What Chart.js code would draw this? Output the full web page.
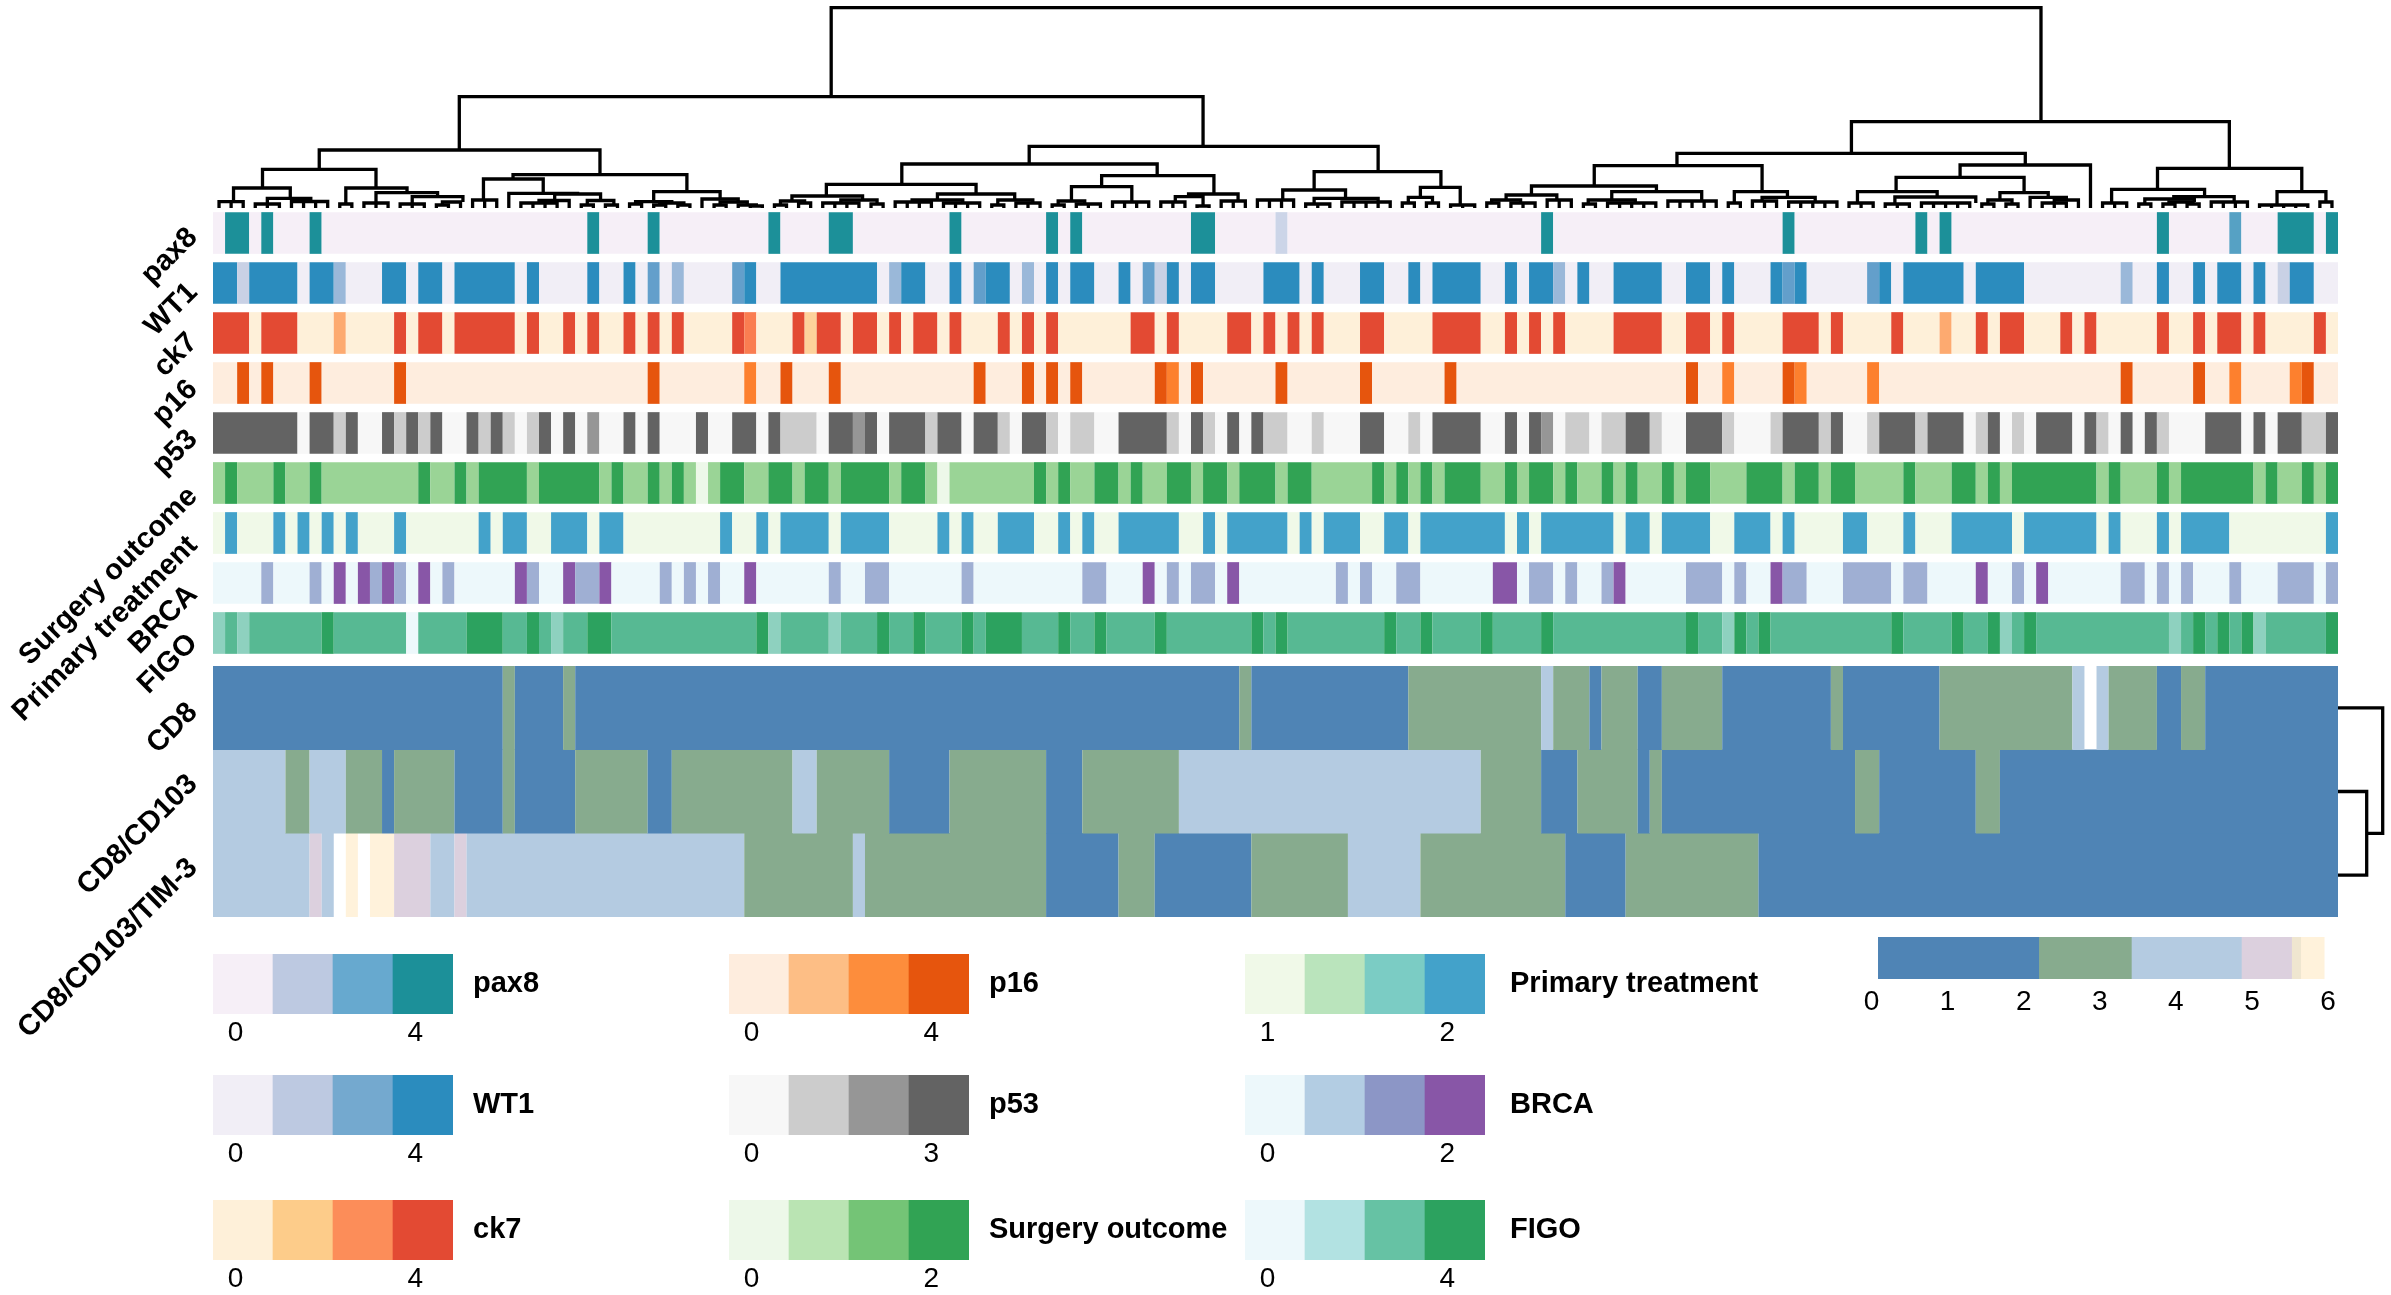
<!DOCTYPE html>
<html><head><meta charset="utf-8">
<script src="https://cdn.jsdelivr.net/npm/chart.js@4/dist/chart.umd.js"></script>
<style>html,body{margin:0;padding:0;background:#fff;width:2391px;height:1295px;overflow:hidden}canvas{position:absolute;display:block}</style>
</head><body>
<script>
// Every row is a list of runs: [value, column where the run ends]. null = missing value.
const columnCount = 176;
const pax8 = [[0,1],[4,3],[0,4],[4,5],[0,8],[4,9],[0,31],[4,32],[0,36],[4,37],[0,46],[4,47],[0,51],[4,53],[0,61],[4,62],[0,69],[4,70],[0,71],[4,72],[0,81],[4,83],[0,88],[1,89],[0,110],[4,111],[0,130],[4,131],[0,141],[4,142],[0,143],[4,144],[0,161],[4,162],[0,167],[3,168],[0,171],[4,174],[0,175],[4,176]];
const WT1 = [[4,2],[1,3],[4,7],[0,8],[4,10],[2,11],[0,14],[4,16],[0,17],[4,19],[0,20],[4,25],[0,26],[4,27],[0,31],[4,32],[0,34],[4,35],[0,36],[3,37],[0,38],[2,39],[0,43],[3,44],[4,45],[0,47],[4,55],[0,56],[2,57],[4,59],[0,61],[4,62],[0,63],[3,64],[4,66],[0,67],[2,68],[0,69],[4,70],[0,71],[4,73],[0,75],[4,76],[0,77],[3,78],[1,79],[4,80],[0,81],[4,83],[0,87],[4,90],[0,91],[4,92],[0,95],[4,97],[0,99],[4,100],[0,101],[4,105],[0,107],[4,108],[0,109],[4,111],[2,112],[0,113],[4,114],[0,116],[4,120],[0,122],[4,124],[0,125],[4,126],[0,129],[4,130],[3,131],[4,132],[0,137],[3,138],[4,139],[0,140],[4,145],[0,146],[4,150],[0,158],[2,159],[0,161],[4,162],[0,164],[4,165],[0,166],[4,168],[0,169],[4,170],[0,171],[1,172],[4,174],[0,176]];
const ck7 = [[4,3],[0,4],[4,7],[0,10],[2,11],[0,15],[4,16],[0,17],[4,19],[0,20],[4,25],[0,26],[4,27],[0,29],[4,30],[0,31],[4,32],[0,34],[4,35],[0,36],[4,37],[0,38],[4,39],[0,43],[4,44],[3,45],[0,48],[4,49],[1,50],[4,52],[0,53],[4,55],[0,56],[4,57],[0,58],[4,60],[0,61],[4,62],[0,65],[4,66],[0,67],[4,68],[0,69],[4,70],[0,76],[4,78],[0,79],[4,80],[0,84],[4,86],[0,87],[4,88],[0,89],[4,90],[0,91],[4,92],[0,95],[4,97],[0,101],[4,105],[0,107],[4,108],[0,109],[4,110],[0,111],[4,112],[0,116],[4,120],[0,122],[4,124],[0,125],[4,126],[0,130],[4,133],[0,134],[4,135],[0,139],[4,140],[0,143],[2,144],[0,146],[4,147],[0,148],[4,150],[0,153],[4,154],[0,155],[4,156],[0,161],[4,162],[0,164],[4,165],[0,166],[4,168],[0,169],[4,170],[0,174],[4,175],[0,176]];
const p16 = [[0,2],[4,3],[0,4],[4,5],[0,8],[4,9],[0,15],[4,16],[0,36],[4,37],[0,44],[3,45],[0,47],[4,48],[0,51],[4,52],[0,63],[4,64],[0,67],[4,68],[0,69],[4,70],[0,71],[4,72],[0,78],[4,79],[3,80],[0,81],[4,82],[0,88],[4,89],[0,95],[4,96],[0,102],[4,103],[0,122],[4,123],[0,125],[3,126],[0,130],[4,131],[3,132],[0,137],[3,138],[0,158],[4,159],[0,164],[4,165],[0,167],[3,168],[0,172],[3,173],[4,174],[0,176]];
const p53 = [[3,7],[0,8],[3,10],[1,11],[3,12],[0,14],[3,15],[1,16],[3,17],[1,18],[3,19],[0,21],[3,22],[1,23],[3,24],[1,25],[0,26],[1,27],[3,28],[0,29],[3,30],[0,31],[2,32],[0,34],[3,35],[0,36],[3,37],[0,40],[3,41],[0,43],[3,45],[0,46],[3,47],[1,50],[0,51],[3,53],[2,54],[3,55],[0,56],[3,59],[1,60],[3,62],[0,63],[3,65],[1,66],[0,67],[3,69],[1,70],[0,71],[1,73],[0,75],[3,79],[1,80],[0,81],[3,82],[1,83],[0,84],[3,85],[0,86],[3,87],[1,89],[0,91],[1,92],[0,95],[3,97],[0,99],[1,100],[0,101],[3,105],[0,107],[3,108],[0,109],[3,110],[2,111],[0,112],[1,114],[0,115],[1,117],[3,119],[1,120],[0,122],[3,125],[1,126],[0,129],[1,130],[3,133],[1,134],[3,135],[0,137],[1,138],[3,141],[1,142],[3,145],[0,146],[1,147],[3,148],[0,149],[1,150],[0,151],[3,154],[0,155],[3,156],[1,157],[0,158],[3,159],[0,160],[3,161],[1,162],[0,165],[3,168],[0,169],[3,170],[0,171],[3,173],[1,175],[3,176]];
const surgeryOutcome = [[1,1],[2,2],[1,5],[2,6],[1,8],[2,9],[1,17],[2,18],[1,20],[2,21],[1,22],[2,26],[1,27],[2,32],[1,33],[2,34],[1,36],[2,37],[1,38],[2,39],[1,40],[0,41],[1,42],[2,44],[1,46],[2,48],[1,49],[2,51],[1,52],[2,56],[1,57],[2,59],[1,60],[0,61],[1,68],[2,69],[1,70],[2,71],[1,73],[2,75],[1,76],[2,77],[1,79],[2,81],[1,82],[2,84],[1,85],[2,88],[1,89],[2,91],[1,96],[2,97],[1,98],[2,99],[1,100],[2,101],[1,102],[2,105],[1,107],[2,108],[1,109],[2,111],[1,112],[2,113],[1,115],[2,116],[1,117],[2,118],[1,120],[2,121],[1,122],[2,124],[1,127],[2,130],[1,131],[2,133],[1,134],[2,136],[1,140],[2,141],[1,144],[2,146],[1,147],[2,148],[1,149],[2,156],[1,157],[2,158],[1,161],[2,162],[1,163],[2,169],[1,170],[2,171],[1,173],[2,174],[1,175],[2,176]];
const primaryTreatment = [[1,1],[2,2],[1,5],[2,6],[1,7],[2,8],[1,9],[2,10],[1,11],[2,12],[1,15],[2,16],[1,22],[2,23],[1,24],[2,26],[1,28],[2,31],[1,32],[2,34],[1,42],[2,43],[1,45],[2,46],[1,47],[2,51],[1,52],[2,56],[1,60],[2,61],[1,62],[2,63],[1,65],[2,68],[1,70],[2,71],[1,72],[2,73],[1,75],[2,80],[1,82],[2,83],[1,84],[2,89],[1,90],[2,91],[1,92],[2,95],[1,97],[2,99],[1,100],[2,107],[1,108],[2,109],[1,110],[2,116],[1,117],[2,119],[1,120],[2,124],[1,126],[2,129],[1,130],[2,131],[1,135],[2,137],[1,140],[2,141],[1,144],[2,149],[1,150],[2,156],[1,157],[2,158],[1,161],[2,162],[1,163],[2,167],[1,175],[2,176]];
const BRCA = [[0,4],[1,5],[0,8],[1,9],[0,10],[2,11],[0,12],[2,13],[1,14],[2,15],[1,16],[0,17],[2,18],[0,19],[1,20],[0,25],[2,26],[1,27],[0,29],[2,30],[1,32],[2,33],[0,37],[1,38],[0,39],[1,40],[0,41],[1,42],[0,44],[2,45],[0,51],[1,52],[0,54],[1,56],[0,62],[1,63],[0,72],[1,74],[0,77],[2,78],[0,79],[1,80],[0,81],[1,83],[0,84],[2,85],[0,93],[1,94],[0,95],[1,96],[0,98],[1,100],[0,106],[2,108],[0,109],[1,111],[0,112],[1,113],[0,115],[1,116],[2,117],[0,122],[1,125],[0,126],[1,127],[0,129],[2,130],[1,132],[0,135],[1,139],[0,140],[1,142],[0,146],[2,147],[0,149],[1,150],[0,151],[2,152],[0,158],[1,160],[0,161],[1,162],[0,163],[1,164],[0,167],[1,168],[0,171],[1,174],[0,175],[1,176]];
const FIGO = [[2,1],[3,2],[2,3],[3,9],[4,10],[3,16],[0,17],[3,21],[4,24],[3,26],[4,27],[3,28],[2,29],[3,31],[4,33],[3,45],[4,46],[2,47],[3,51],[2,52],[3,55],[4,56],[3,58],[4,59],[3,62],[4,63],[3,64],[4,67],[3,70],[4,71],[3,73],[4,74],[3,78],[4,79],[3,86],[4,87],[3,88],[4,89],[3,97],[4,98],[3,100],[4,101],[3,105],[4,106],[3,110],[4,111],[3,122],[4,123],[3,125],[2,126],[4,127],[3,128],[4,129],[3,139],[4,140],[3,144],[4,145],[3,147],[4,148],[2,149],[3,150],[4,151],[3,162],[2,163],[3,164],[4,165],[3,166],[4,167],[3,168],[4,169],[2,170],[3,175],[4,176]];
const CD8 = [[1,24],[3,25],[1,29],[3,30],[1,85],[3,86],[1,99],[3,110],[4,111],[3,114],[1,115],[3,118],[1,120],[3,125],[1,134],[3,135],[1,143],[3,154],[4,155],[null,156],[4,157],[3,161],[1,163],[3,165],[1,176]];
const CD8_CD103 = [[4,6],[3,8],[4,11],[3,14],[1,15],[3,20],[1,24],[3,25],[1,30],[3,36],[1,38],[3,48],[4,50],[3,56],[1,61],[3,69],[1,72],[3,80],[4,105],[3,110],[1,113],[3,118],[1,119],[3,120],[1,136],[3,138],[1,146],[3,148],[1,176]];
const CD8_CD103_TIM3 = [[4,8],[5,9],[4,10],[null,11],[6,12],[null,13],[6,15],[5,18],[4,20],[5,21],[4,44],[3,53],[4,54],[3,69],[1,75],[3,78],[1,86],[3,94],[4,100],[3,112],[1,117],[3,128],[1,176]];

const annotationNames = ['pax8','WT1','ck7','p16','p53','Surgery outcome','Primary treatment','BRCA','FIGO'];
const annotationRows = [pax8,WT1,ck7,p16,p53,surgeryOutcome,primaryTreatment,BRCA,FIGO];
const annotationLabelRows = [0.5,1.6,2.6,3.54,4.54,5.68,6.66,7.64,8.62];
const heatNames = ['CD8','CD8/CD103','CD8/CD103/TIM-3'];
const heatRows = [CD8,CD8_CD103,CD8_CD103_TIM3];
const heatLabelRows = [0.5,1.36,2.36];

// colours of the values as they appear in the rows
const pax8Cells = ['#f6eff7','#ccd5e8','#9cb9d8','#56a1c4','#1c9099'];
const WT1Cells = ['#f1eef6','#c9d1e5','#9ab8d9','#639fcb','#2b8cbe'];
const ck7Cells = ['#fef0d9','#fdd29c','#fdaa70','#fa7d51','#e34a33'];
const p16Cells = ['#feedde','#fdbe85','#fd9e5c','#fd802e','#e6550d'];
const p53Cells = ['#f7f7f7','#cccccc','#969696','#636363'];
const surgeryCells = ['#edf8e9','#9ad496','#31a354'];
const primaryCells = [null,'#f0f9e8','#43a2ca'];
const brcaCells = ['#edf8fb','#9fafd3','#8856a7'];
const figoCells = ['#edf8fb','#b2e2e2','#8ed1bf','#57b993','#2ca25f'];
const annotationCells = [pax8Cells,WT1Cells,ck7Cells,p16Cells,p53Cells,surgeryCells,primaryCells,brcaCells,figoCells];
const heatCells = [null,'#4f84b5',null,'#87ab8e','#b4cbe1','#dcd0de','#fff2db'];

// dendrogram merges: [left x, left height, right x, right height, merge height]; x is in columns
const columnLinks = [
[51.2,111.3,151.4,86.3,200.3],[20.4,58,82,61.7,111.3],[8.8,38.7,32.05,33.3,58],[4.1,20,13.5,20,38.7],[1.7,6.3,6.4,9.7,20],
[0.5,0,2.5,0,6.3],[4.5,4,8.1,6.5,9.7],[3.5,0,5.5,0,4],[6.5,0,9.5,0,6.5],[11,4,16.07,15.3,20],[10.5,0,11.5,0,4],[13.5,5,18.6,11.3,15.3],[12.5,0,14.5,0,5],
[16.5,4,20.7,6,11.3],[15.5,0,17.5,0,4],[19,3,20.5,0,6],[18.5,0,19.5,0,3],[24.85,29,39.25,16.3,33.3],[22.4,8,27.35,14.7,29],[21.5,0,23.5,0,8],[24.5,0,30.2,14,14.7],[28.3,7.5,32.1,7.5,14],
[27,5,29.5,0,7.5],[25.5,0,28.5,0,5],[31,3,33.2,3,7.5],[30.5,0,31.5,0,3],[32.5,0,33.5,0,3],[36.5,6.3,42,9,16.3],[35,4,38,5,6.3],[34.5,0,35.5,0,4],[37,3,39,3,5],[36.5,0,37.5,0,3],[38.5,0,39.5,0,3],
[40.5,0,43.5,6,9],[42,3,44.25,3,6],[41.5,0,42.5,0,3],[43.5,0,45,2,3],[44.5,0,45.5,0,2],
[67.6,44,96.5,36.3,61.7],[57.05,23.7,78.2,32.3,44],[50.8,12,63.2,14,23.7],[47.95,7,53.8,8,12],[47,3,49,5,7],[46.5,0,47.5,0,3],[48.5,0,49.5,0,5],[52,5,55,4,8],[50.5,0,53.5,0,5],[54.5,0,55.5,0,4],
[60,8,66.4,8,14],[57.9,6,62.1,5,8],[56.5,0,59.5,0,6],[60.5,0,63.5,0,5],[65,3,67.9,5,8],[64.5,0,65.5,0,3],[66.5,0,68.5,0,5],
[73.6,21.3,82.9,14,32.3],[71.1,7,76.1,6,21.3],[70,3,72.2,4,7],[69.5,0,70.5,0,3],[71.5,0,73.5,0,4],[74.5,0,77.5,0,6],[80.8,11.3,84.9,7,14],[79.7,6,82,2,11.3],[78.5,0,80.5,0,6],[81.5,0,82.5,0,2],[83.5,0,85.5,0,7],
[91.2,18,101.7,20.7,36.3],[88.6,8,93.8,9.7,18],[86.5,0,89.5,0,8],[91.2,4,96.5,6,9.7],[90.5,0,92.5,0,4],[93.5,0,97.5,0,6],[100,10.7,103.3,3,20.7],[99,5,101,5,10.7],[98.5,0,99.5,0,5],[100.5,0,101.5,0,5],[102.5,0,104.5,0,3],
[135.7,54.7,167,39.7,86.3],[121.25,42.3,150.1,43,54.7],[114.4,22,128.3,16.3,42.3],[109.2,13,119.55,16.3,22],[107.1,8,111.3,8,13],[105.9,5,108.3,5,8],[105.5,0,106.5,0,5],[107.5,0,109.5,0,5],[110.5,0,112.5,0,8],
[115.85,8,123.3,7,16.3],[113.9,4,117.8,5,8],[113.5,0,114.5,0,4],[115.5,0,119.5,0,5],[120.5,0,124.5,0,7],[126,5,130.4,10.7,16.3],[125.5,0,126.5,0,5],[128.3,7,132.7,6,10.7],[127.5,0,129.5,0,7],[130.5,0,134.5,0,6],
[144.7,30.7,155.5,0,43],[139.4,16.3,150,15.3,30.7],[136.2,5,142.8,11,16.3],[135.5,0,137.5,0,5],[139.3,4,146,5,11],[138.5,0,140.5,0,4],[141.5,0,145.5,0,5],[148,8,152,10.7,15.3],[147,4,149,4,8],[146.5,0,147.5,0,4],[148.5,0,149.5,0,4],[150.5,0,153.5,8,10.7],[152.5,5,154.5,0,8],[151.5,0,153.5,0,5],
[161.05,18.7,173,16.3,39.7],[157.25,5,164.95,11.3,18.7],[156.5,0,158.5,0,5],[162.4,9,167.4,6,11.3],[160,4,164.1,6,9],[159.5,0,160.5,0,4],[162,4,164,4,6],[161.5,0,162.5,0,4],[163.5,0,164.5,0,4],[165.5,0,168.5,0,6],[170.95,3,175,6,16.3],[169.5,0,173.5,0,3],[174.5,0,175.5,0,6]
];
// row dendrogram: [upper row position, upper distance, lower row position, lower distance, merge distance]
const rowLinks = [[1.5,0,2.5,0,28.7],[0.5,0,2,28.7,44.7]];

// legends
const legends = [
 {name:'pax8',ticks:[0,4],colors:['#f6eff7','#bdc9e1','#67a9cf','#1c9099']},
 {name:'WT1',ticks:[0,4],colors:['#f1eef6','#bdc9e1','#74a9cf','#2b8cbe']},
 {name:'ck7',ticks:[0,4],colors:['#fef0d9','#fdcc8a','#fc8d59','#e34a33']},
 {name:'p16',ticks:[0,4],colors:['#feedde','#fdbe85','#fd8d3c','#e6550d']},
 {name:'p53',ticks:[0,3],colors:['#f7f7f7','#cccccc','#969696','#636363']},
 {name:'Surgery outcome',ticks:[0,2],colors:['#edf8e9','#bae4b3','#74c476','#31a354']},
 {name:'Primary treatment',ticks:[1,2],colors:['#f0f9e8','#bae4bc','#7bccc4','#43a2ca']},
 {name:'BRCA',ticks:[0,2],colors:['#edf8fb','#b3cde3','#8c96c6','#8856a7']},
 {name:'FIGO',ticks:[0,4],colors:['#edf8fb','#b2e2e2','#66c2a4','#2ca25f']}
];
const colorbarEdges = [0.09,2.207,3.424,4.87,5.53,5.65,5.95];
const colorbarColors = ['#4f84b5','#87ab8e','#b4cbe1','#dcd0de','#efe6d0','#fff2db'];
const colorbarTicks = [0,1,2,3,4,5,6];

Chart.defaults.font.family = '"Liberation Sans", Arial, sans-serif';
Chart.defaults.color = '#000';
const base = {responsive:false,animation:false,devicePixelRatio:1,plugins:{legend:{display:false},tooltip:{enabled:false}},events:[]};
function canvas(left,top,w,h){const c=document.createElement('canvas');c.width=w;c.height=h;c.style.left=left+'px';c.style.top=top+'px';c.style.width=w+'px';c.style.height=h+'px';document.body.appendChild(c);return c;}
function noOverhang(s){s.paddingTop=0;s.paddingBottom=0;s.paddingLeft=0;s.paddingRight=0;}

function rowDataset(name,runs,palette,thick){
  const data=[],bg=[];let start=0;
  for(const [v,end] of runs){ if(v!==null){data.push({x:[start,end],y:name});bg.push(palette[v]);} start=end; }
  return {data,backgroundColor:bg,borderWidth:0,grouped:false,barPercentage:thick,categoryPercentage:1};
}
function heatChart(left,top,w,h,pad,names,rows,palettes,thick,labelRows){
  new Chart(canvas(left,top,w,h),{type:'bar',data:{labels:names,datasets:names.map((n,i)=>rowDataset(n,rows[i],palettes[i],thick))},
   options:{...base,indexAxis:'y',layout:{padding:pad},scales:{
    x:{type:'linear',min:0,max:columnCount,display:false},
    y:{type:'category',display:false},
    rowLabels:{type:'linear',axis:'y',position:'left',offset:false,min:0,max:names.length,reverse:true,
       afterBuildTicks:s=>{s.ticks=labelRows.map(v=>({value:v}));},
       afterFit:s=>{s.width=213;noOverhang(s);},grid:{display:false,drawTicks:false},border:{display:false},
       ticks:{autoSkip:false,minRotation:45,maxRotation:45,padding:20,font:{size:29,weight:'bold'},color:'#000',callback:(v,i)=>names[i]}}}}});
}
// annotation rows and main heatmap
heatChart(0,188,2338,550,{top:20,bottom:80},annotationNames,annotationRows,annotationCells,0.834,annotationLabelRows);
heatChart(0,646,2338,421,{top:20,bottom:150},heatNames,heatRows,heatNames.map(()=>heatCells),1.006,heatLabelRows);

function linkDatasets(links,map){
  const ds=[];
  const style={showLine:true,pointRadius:0,borderColor:'#000',backgroundColor:'#000',borderWidth:3.3,borderJoinStyle:'miter',borderCapStyle:'butt',tension:0,clip:false};
  for(const [a,ha,b,hb,top] of links){
    ds.push({...style,data:[map(a,ha),map(a,top),map(b,top),map(b,hb)]});
    if(ha===0&&hb===0) for(let i=a+1;i<b;i++) ds.push({...style,data:[map(i,0),map(i,top)]});
  }
  return ds;
}
// top dendrogram
new Chart(canvas(213,0,2125,209),{type:'scatter',data:{datasets:linkDatasets(columnLinks,(x,h)=>({x,y:h}))},
 options:{...base,scales:{x:{type:'linear',min:0,max:columnCount,display:false},y:{type:'linear',min:-1,max:208,display:false}}}});
// right dendrogram
new Chart(canvas(2338,666,53,251),{type:'scatter',data:{datasets:linkDatasets(rowLinks,(r,d)=>({x:d,y:r}))},
 options:{...base,scales:{x:{type:'linear',min:0,max:53,display:false},y:{type:'linear',min:0,max:3,reverse:true,display:false}}}});

// discrete legends
const legendColumns=[213,729,1245], legendTops=[934,1055,1180], legendGaps=[20,20,25];
legends.forEach((lg,i)=>{
  const col=Math.floor(i/3),row=i%3,W=col===2?520:560,barW=240;
  const [a,b]=lg.ticks, span=(b-a)/0.749, min=a-0.094*span, step=span/4;
  const data=lg.colors.map((c,k)=>({x:[min+k*step,min+(k+1)*step],y:lg.name}));
  new Chart(canvas(legendColumns[col],legendTops[row],W,130),{type:'bar',data:{labels:[lg.name],datasets:[{data,backgroundColor:lg.colors,borderWidth:0,barPercentage:1,categoryPercentage:1,grouped:false}]},
   options:{...base,indexAxis:'y',layout:{padding:{top:20}},scales:{
    x:{type:'linear',min,max:min+span,position:'bottom',afterBuildTicks:s=>{s.ticks=lg.ticks.map(v=>({value:v}));},afterFit:s=>{s.height=50;noOverhang(s);},
       grid:{display:false,drawTicks:false},border:{display:false},ticks:{padding:2,maxRotation:0,autoSkip:false,font:{size:28},color:'#000',callback:v=>String(v)}},
    y:{type:'category',position:'right',afterFit:s=>{s.width=W-barW;noOverhang(s);},grid:{display:false,drawTicks:false},border:{display:false},
       ticks:{padding:legendGaps[col],font:{size:29,weight:'bold'},color:'#000'}}}}});
});
// continuous colorbar of the main heatmap
{
  const data=colorbarColors.map((c,k)=>({x:[colorbarEdges[k],colorbarEdges[k+1]],y:'scale'}));
  new Chart(canvas(1851,937,499,92),{type:'bar',data:{labels:['scale'],datasets:[{data,backgroundColor:colorbarColors,borderWidth:0,barPercentage:1,categoryPercentage:1,grouped:false}]},
   options:{...base,indexAxis:'y',layout:{padding:{left:20.5,right:22}},scales:{
    x:{type:'linear',min:0,max:6,afterBuildTicks:s=>{s.ticks=colorbarTicks.map(v=>({value:v}));},afterFit:s=>{s.height=50;noOverhang(s);},grid:{display:false,drawTicks:false},border:{display:false},
       ticks:{padding:6,maxRotation:0,autoSkip:false,font:{size:28},color:'#000',callback:v=>String(v)}},
    y:{type:'category',display:false}}}});
}
</script>
</body></html>
